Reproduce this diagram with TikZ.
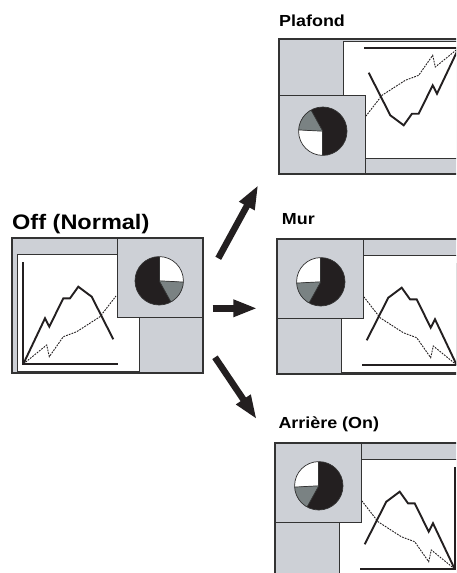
\documentclass[tikz,border=0pt]{standalone}
\usepackage{fontspec}
\setmainfont{Liberation Sans}[FakeStretch=1.12]
\usetikzlibrary{arrows.meta}
\definecolor{panel}{HTML}{CDD0D6}
\definecolor{edge}{HTML}{333333}
\definecolor{piegray}{HTML}{7A8283}
\definecolor{pieblack}{HTML}{231F20}
\tikzset{
  frame/.style={draw=edge, line width=1.6pt},
  inner/.style={draw=edge, line width=0.9pt},
  axisline/.style={draw=pieblack, line width=1.2pt},
  dataline/.style={draw=pieblack, line width=1.9pt, line join=miter},
  dashline/.style={draw=pieblack, line width=0.9pt, dash pattern=on 1.8pt off 1.1pt},
  bigarrow/.style={draw=pieblack, line width=6.5pt, -{Triangle[length=24pt,width=16pt]}},
  biglabel/.style={anchor=base west, inner sep=0pt, font=\fontsize{21}{25}\selectfont\bfseries},
  smalllabel/.style={anchor=base west, inner sep=0pt, font=\fontsize{16}{19}\selectfont\bfseries}
}
\newcommand{\screenpic}{%
  \fill[panel] (0,0) rectangle (191,135);
  \filldraw[fill=white, inner] (5,16) rectangle (127,133);
  \draw[axisline] (11,24) -- (11,126) -- (106,126);
  \draw[dashline] (11.3,126) -- (34.7,107) -- (37.3,118.7) -- (51.3,98.7) -- (64.7,93.7) -- (88,78.7) -- (104,58);
  \draw[dataline] (11.3,126) -- (33,80.3) -- (37.3,88.7) -- (51.3,60.3) -- (58,60.3) -- (66.3,48.7) -- (79.7,58.7) -- (101.3,101.3);
  \filldraw[fill=panel, inner] (105,0) rectangle (191,79);
  \coordinate (pc) at (147.2,42.8);
  \fill[pieblack] (pc) circle[radius=24.2];
  \fill[white] (pc) -- ++(-90:24.2) arc[start angle=-90, end angle=3, radius=24.2] -- cycle;
  \fill[piegray] (pc) -- ++(3:24.2) arc[start angle=3, end angle=61, radius=24.2] -- cycle;
  \draw[edge, line width=0.7pt] (pc) circle[radius=24.2];
  \draw[edge, line width=0.7pt] (pc) -- ++(-90:24.2);
  \draw[edge, line width=0.7pt] (pc) -- ++(3:24.2);
  \draw[edge, line width=0.7pt] (pc) -- ++(61:24.2);
  \draw[frame] (0,0) rectangle (191,135);
}
\begin{document}
\begin{tikzpicture}[x=1pt, y=-1pt]
  \useasboundingbox (0,0) rectangle (456,573);
  \clip (0,0) rectangle (456,573);
  % Off (Normal)
  \begin{scope}[shift={(12,238)}]
    \screenpic
  \end{scope}
  % Plafond (rotated 180)
  \begin{scope}[shift={(470,174)}, rotate=180]
    \screenpic
  \end{scope}
  % Mur (mirrored)
  \begin{scope}[shift={(468,239)}, xscale=-1]
    \screenpic
  \end{scope}
  % Arriere (mirrored)
  \begin{scope}[shift={(466,443)}, xscale=-1]
    \screenpic
  \end{scope}
  % labels
  \node[biglabel] (off) at (12,229.3) {Off (Normal)};
  \node[smalllabel] (plafond) at (279,26.7) {Plafond};
  \node[smalllabel] (mur) at (281.7,224) {Mur};
  \node[smalllabel] (arriere) at (278.3,428.3) {Arrière (On)};
  % arrows
  \coordinate (upS) at (218.3,258.3);
  \coordinate (upE) at (258.3,185);
  \coordinate (midS) at (212.7,308.3);
  \coordinate (midE) at (257.3,308.3);
  \coordinate (dnS) at (215,357.3);
  \coordinate (dnE) at (256.7,419.3);
  \draw[bigarrow] (upS) -- (upE);
  \draw[bigarrow] (midS) -- (midE);
  \draw[bigarrow] (dnS) -- (dnE);
\end{tikzpicture}
\end{document}
